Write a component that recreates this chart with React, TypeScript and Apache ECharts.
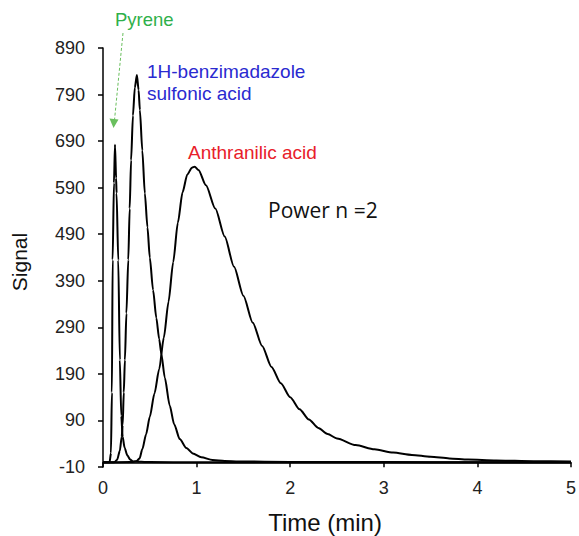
import React, { useEffect, useRef } from "react";
import * as echarts from "echarts";

// ---- data ----
const xTicks = [0, 1, 2, 3, 4, 5];
const yTickValues = [-10, 90, 190, 290, 390, 490, 590, 690, 790, 890];

const pyreneTime = [0, 0.07, 0.085, 0.095, 0.103, 0.117, 0.128, 0.14, 0.145, 0.163, 0.18, 0.195, 0.21, 0.23, 0.26, 0.29, 0.32, 0.5, 1, 2, 3, 4, 5];
const pyreneSignal = [0, 0, 20, 150, 435, 600, 682, 610, 578, 434, 220, 100, 55, 32, 15, 6, 2, 0.5, 0, 0, 0, 0, 0];

const benzTime = [0, 0.12, 0.15, 0.18, 0.2, 0.21, 0.222, 0.234, 0.25, 0.27, 0.285, 0.3, 0.32, 0.34, 0.362, 0.38, 0.394, 0.42, 0.447, 0.475, 0.5, 0.535, 0.57, 0.6, 0.624, 0.66, 0.713, 0.76, 0.82, 0.89, 0.96, 1.05, 1.17, 1.3, 1.45, 2, 3, 4, 5];
const benzSignal = [0, 0, 5, 25, 55, 80, 150, 220, 320, 435, 545, 649, 745, 805, 832, 800, 757, 670, 578, 505, 440, 370, 310, 265, 232, 182, 122, 82, 50, 31, 19, 11, 5, 3, 2, 1, 0.5, 0, 0];

const anthTime = [0, 0.3, 0.32, 0.36, 0.39, 0.42, 0.46, 0.5, 0.55, 0.6, 0.65, 0.7, 0.75, 0.8, 0.85, 0.9, 0.95, 0.98, 1.02, 1.1, 1.2, 1.3, 1.4, 1.5, 1.6, 1.7, 1.8, 1.9, 2.0, 2.1, 2.2, 2.3, 2.4, 2.5, 2.7, 2.9, 3.1, 3.3, 3.5, 3.7, 3.9, 4.2, 4.6, 5];
const anthSignal = [0, 1, 1, 3, 8, 28, 60, 98, 148, 200, 268, 345, 430, 515, 580, 618, 633, 635, 628, 595, 545, 485, 420, 358, 300, 250, 205, 170, 140, 114, 92, 74, 61, 51, 37, 28, 21, 16, 12, 8.5, 6, 4, 2.5, 2];

const toPairs = (t: number[], v: number[]) => t.map((x, i) => [x, v[i]]);

export default function App() {
  const ref = useRef<HTMLDivElement>(null);
  useEffect(() => {
    if (!ref.current) return;
    const chart = echarts.init(ref.current, null, { renderer: "svg" });
    const lineSeries = (name: string, t: number[], v: number[]) => ({
      name,
      type: "line",
      data: toPairs(t, v),
      showSymbol: false,
      smooth: 0.25,
      smoothMonotone: "x",
      lineStyle: { color: "#000", width: 2 },
      silent: true,
    });
    chart.setOption({
      animation: false,
      backgroundColor: "#fff",
      grid: { left: 103, right: 4, top: 48, bottom: 69 },
      xAxis: {
        type: "value",
        min: xTicks[0],
        max: xTicks[xTicks.length - 1],
        interval: 1,
        axisLine: { lineStyle: { color: "#000", width: 1.5 } },
        axisTick: { length: 5, lineStyle: { color: "#000", width: 1.5 } },
        axisLabel: { fontFamily: "Liberation Sans", fontSize: 18, color: "#222", margin: 12 },
        splitLine: { show: false },
      },
      yAxis: {
        type: "value",
        min: yTickValues[0],
        max: yTickValues[yTickValues.length - 1],
        axisLine: { show: true, lineStyle: { color: "#000", width: 1.5 } },
        axisTick: { show: true, length: 5, customValues: yTickValues, lineStyle: { color: "#000", width: 1.5 } },
        axisLabel: { fontFamily: "Liberation Sans", fontSize: 18, color: "#222", margin: 18, customValues: yTickValues },
        splitLine: { show: false },
      },
      series: [
        lineSeries("Pyrene", pyreneTime, pyreneSignal),
        lineSeries("1H-benzimadazole sulfonic acid", benzTime, benzSignal),
        lineSeries("Anthranilic acid", anthTime, anthSignal),
      ],
      graphic: [
        { type: "text", x: 325, y: 522, style: { text: "Time (min)", fontFamily: "Liberation Sans", fontSize: 24, fill: "#111", align: "center", verticalAlign: "middle" } },
        { type: "text", x: 19, y: 262, rotation: Math.PI / 2, style: { text: "Signal", fontFamily: "Liberation Sans", fontSize: 21, fill: "#111", align: "center", verticalAlign: "middle" } },
        { type: "text", left: 115, top: 10, style: { text: "Pyrene", fontFamily: "Liberation Sans", fontSize: 18.5, fill: "#2fb04a" } },
        { type: "line", shape: { x1: 123, y1: 33, x2: 114.5, y2: 120 }, style: { stroke: "#6abf5e", lineWidth: 1, lineDash: [3, 2] } },
        { type: "polygon", shape: { points: [[113.5, 128], [109.5, 118.5], [118.5, 119.5]] }, style: { fill: "#6abf5e" } },
        { type: "text", left: 147, top: 60, style: { text: "1H-benzimadazole\nsulfonic acid", fontFamily: "Liberation Sans", fontSize: 19, lineHeight: 22, fill: "#2a2ad0" } },
        { type: "text", left: 188, top: 143, style: { text: "Anthranilic acid", fontFamily: "Liberation Sans", fontSize: 19, fill: "#e8202a" } },
        { type: "text", left: 268, top: 199, style: { text: "Power n =2", fontFamily: "Open Sans", fontSize: 21, fill: "#111" } },
      ],
    });
    return () => chart.dispose();
  }, []);
  return (
    <div
      ref={ref}
      style={{ position: "fixed", left: 0, top: 0, width: 579, height: 536, background: "#fff" }}
    />
  );
}
